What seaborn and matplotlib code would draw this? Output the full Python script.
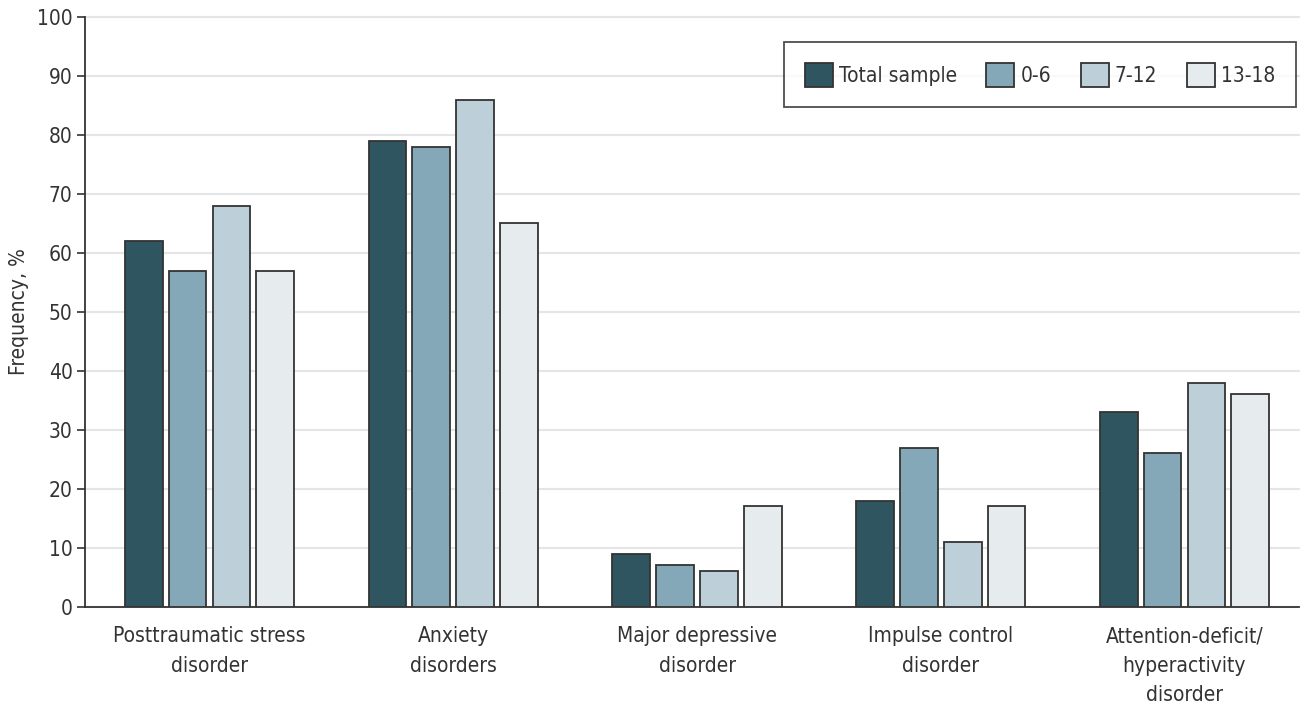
import matplotlib
matplotlib.use("Agg")
import matplotlib.pyplot as plt
import seaborn as sns
import pandas as pd

# data
categories = ["Posttraumatic stress\ndisorder", "Anxiety\ndisorders",
              "Major depressive\ndisorder", "Impulse control\ndisorder",
              "Attention-deficit/\nhyperactivity\ndisorder"]
groups = ["Total sample", "0-6", "7-12", "13-18"]
total_sample = [62, 79, 9, 18, 33]
age_0_6 = [57, 78, 7, 27, 26]
age_7_12 = [68, 86, 6, 11, 38]
age_13_18 = [57, 65, 17, 17, 36]
colors = ["#2e5560", "#84a8b8", "#bdd0da", "#e6ebee"]

sns.set_style("white")
plt.rcParams['font.family'] = ['DejaVu Sans']
plt.rcParams['font.stretch'] = 'condensed'
plt.rcParams['text.color'] = '#333333'
plt.rcParams['xtick.color'] = '#333333'
plt.rcParams['ytick.color'] = '#333333'
plt.rcParams['axes.labelcolor'] = '#333333'

rows = []
for g, vals in zip(groups, [total_sample, age_0_6, age_7_12, age_13_18]):
    for c, v in zip(categories, vals):
        rows.append({"category": c, "group": g, "value": v})
df = pd.DataFrame(rows)

fig = plt.figure(figsize=(13.01, 7.08), dpi=100)
ax = fig.add_axes([0.0655, 0.143, 0.933, 0.833])

sns.barplot(data=df, x="category", y="value", hue="group", order=categories,
            hue_order=groups, palette=colors, saturation=1, width=0.72, gap=0.14,
            edgecolor="#333333", linewidth=1.3, ax=ax, zorder=3)

ax.set_ylim(0, 100)
ax.set_xlim(-0.51, 4.47)
ax.set_yticks(range(0, 101, 10))
ax.yaxis.grid(True, color="#e3e5e6", linewidth=1.5, zorder=0, clip_on=False)
ax.set_axisbelow(True)
ax.set_xlabel("")
ax.set_ylabel("Frequency, %", fontsize=15, labelpad=6)
ax.tick_params(axis="y", labelsize=15, length=6, width=1.2, direction="out", left=True, pad=3)
ax.tick_params(axis="x", labelsize=15, length=0, pad=14)
for lbl in ax.get_xticklabels():
    lbl.set_linespacing(1.6)
for s in ["top", "right"]:
    ax.spines[s].set_visible(False)
for s in ["left", "bottom"]:
    ax.spines[s].set_color("#333333")
    ax.spines[s].set_linewidth(1.3)

leg = ax.legend(loc="upper right", ncol=4, fontsize=15, frameon=True, fancybox=False,
                bbox_to_anchor=(0.9975, 0.957), handlelength=1.35, handleheight=1.35,
                handletextpad=0.3, columnspacing=1.4, borderpad=1.0, borderaxespad=0)
leg.get_frame().set_edgecolor("#222222")
leg.get_frame().set_linewidth(1.3)

fig.savefig("out.png", dpi=100)
